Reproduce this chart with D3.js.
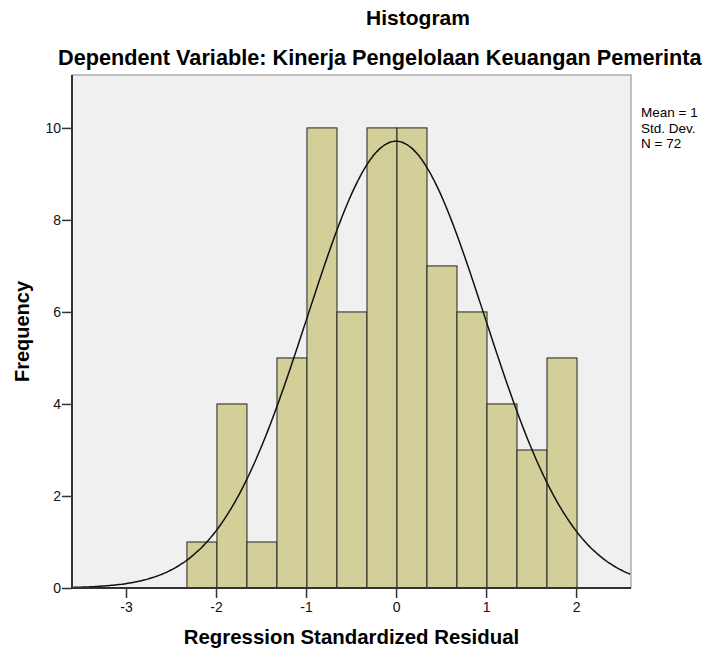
<!DOCTYPE html>
<html>
<head>
<meta charset="utf-8">
<script src="https://cdn.jsdelivr.net/npm/d3@7"></script>
<style>
  body { margin: 0; background: #fff; }
  svg { display: block; font-family: "Liberation Sans", Arial, sans-serif; }
</style>
</head>
<body>
<svg id="chart" width="704" height="652"></svg>
<script>
// Histogram data
const binStart = -2.323;
const binWidth = 1 / 3;
const counts = [1, 4, 1, 5, 10, 6, 10, 10, 7, 6, 4, 3, 5];
const xTicks = [-3, -2, -1, 0, 1, 2];
const yTicks = [0, 2, 4, 6, 8, 10];
const mean = 0;
const stdDev = 0.986;
const n = 72;
// legend as it shows in the picture (cut at the right edge there)
const legendLines = ["Mean = 1", "Std. Dev.", "N = 72"];

// Plot area
const margin = { top: 75, right: 73, bottom: 64, left: 72 };
const width = 704 - margin.left - margin.right;
const height = 652 - margin.top - margin.bottom;

const svg = d3.select("#chart");
const g = svg.append("g").attr("transform", `translate(${margin.left},${margin.top})`);

const x = d3.scaleLinear().domain([-3.6, 2.61]).range([0, width]);
const y = d3.scaleLinear().domain([0, 11.15]).range([height, 0]);

// Background
g.append("rect")
    .attr("width", width)
    .attr("height", height)
    .attr("fill", "#f0f0f0")
    .attr("stroke", "#888")
    .attr("stroke-width", 1);

// Bars
const bins = counts.map((c, i) => ({ x0: binStart + i * binWidth, x1: binStart + (i + 1) * binWidth, c }));
g.selectAll("rect.bar")
    .data(bins)
    .enter()
    .append("rect")
    .attr("class", "bar")
    .attr("x", d => x(d.x0))
    .attr("y", d => y(d.c))
    .attr("width", d => x(d.x1) - x(d.x0))
    .attr("height", d => y(0) - y(d.c))
    .attr("fill", "#d3cf99")
    .attr("stroke", "#222")
    .attr("stroke-width", 1);

// Normal curve
const curveX = d3.range(-3.6, 2.6101, 0.02);
const pdf = v => n * binWidth / (stdDev * Math.sqrt(2 * Math.PI)) * Math.exp(-((v - mean) ** 2) / (2 * stdDev * stdDev));
const line = d3.line().x(d => x(d)).y(d => y(pdf(d))).curve(d3.curveBasis);
g.append("path")
    .datum(curveX)
    .attr("fill", "none")
    .attr("stroke", "#111")
    .attr("stroke-width", 1.5)
    .attr("d", line);

// Axes (hyphen minus like the original)
const fmt = d => String(d);
const xAxis = g.append("g")
    .attr("transform", `translate(0,${height})`)
    .call(d3.axisBottom(x).tickValues(xTicks).tickSize(10).tickPadding(4).tickFormat(fmt));
const yAxis = g.append("g")
    .call(d3.axisLeft(y).tickValues(yTicks).tickSize(10).tickPadding(1).tickFormat(fmt));
[xAxis, yAxis].forEach(a => {
    a.select(".domain").attr("stroke", "#333").attr("stroke-width", 2);
    a.selectAll(".tick line").attr("stroke", "#333").attr("stroke-width", 1.5);
    a.selectAll(".tick text").attr("fill", "#111").style("font-size", "14px").style("font-family", "'Liberation Sans', Arial, sans-serif");
});
// straight domain lines, no outer ticks
xAxis.select(".domain").attr("d", `M0,0H${width}`);
yAxis.select(".domain").attr("d", `M0,0V${height}`);

// Titles
svg.append("text")
    .attr("x", 418).attr("y", 25)
    .attr("text-anchor", "middle")
    .style("font-size", "21px").style("font-weight", "bold")
    .text("Histogram");
svg.append("text")
    .attr("x", 58).attr("y", 65)
    .style("font-size", "21.7px").style("font-weight", "bold")
    .text("Dependent Variable: Kinerja Pengelolaan Keuangan Pemerinta");

svg.append("text")
    .attr("x", margin.left + width / 2).attr("y", 644)
    .attr("text-anchor", "middle")
    .style("font-size", "20.4px").style("font-weight", "bold")
    .text("Regression Standardized Residual");
svg.append("text")
    .attr("transform", `translate(29,${margin.top + height / 2}) rotate(-90)`)
    .attr("text-anchor", "middle")
    .style("font-size", "20px").style("font-weight", "bold")
    .text("Frequency");

// Legend
svg.selectAll("text.legend")
    .data(legendLines)
    .enter()
    .append("text")
    .attr("class", "legend")
    .attr("x", 641)
    .attr("y", (d, i) => 117 + i * 15.5)
    .style("font-size", "13.5px")
    .text(d => d);
</script>
</body>
</html>
